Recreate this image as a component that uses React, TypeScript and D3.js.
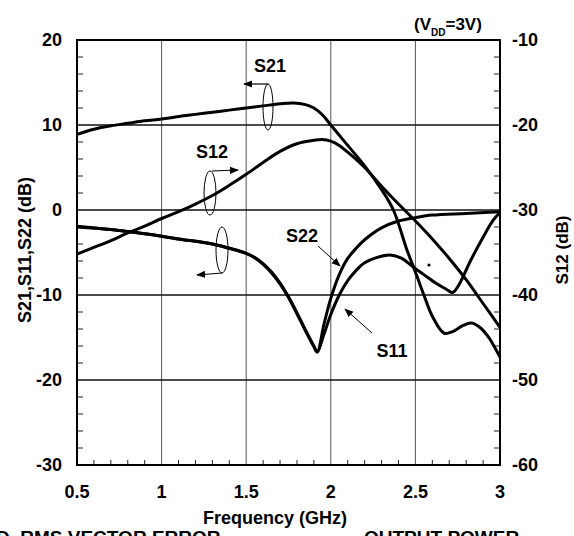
import React from "react"
import * as d3 from "d3"

// S-parameters vs frequency, VDD = 3V
const s21Freq = [0.5, 0.6, 0.7, 0.8, 0.9, 1.0, 1.1, 1.2, 1.3, 1.4, 1.5, 1.6, 1.7, 1.78, 1.85, 1.9, 1.95, 2.0, 2.1, 2.2, 2.3, 2.37, 2.45, 2.5, 2.55, 2.6, 2.67, 2.72, 2.78, 2.83, 2.88, 2.93, 2.97, 3.0]
const s21Db = [8.9, 9.5, 9.9, 10.2, 10.5, 10.7, 11.0, 11.25, 11.5, 11.75, 12.0, 12.25, 12.5, 12.6, 12.4, 12.0, 11.2, 10.0, 7.6, 5.2, 2.4, 0, -4.7, -7.3, -10.0, -12.5, -14.5, -14.3, -13.6, -13.3, -13.8, -14.9, -16.2, -17.3]

const s12Freq = [0.5, 0.6, 0.7, 0.8, 0.9, 1.0, 1.1, 1.2, 1.3, 1.4, 1.5, 1.6, 1.7, 1.8, 1.9, 1.95, 2.0, 2.05, 2.1, 2.2, 2.3, 2.4, 2.5, 2.6, 2.7, 2.8, 2.9, 3.0]
const s12Db = [-35.2, -34.4, -33.6, -32.7, -31.9, -31.0, -30.2, -29.3, -28.3, -27.1, -25.8, -24.4, -23.1, -22.2, -21.8, -21.7, -21.9, -22.4, -23.2, -25.0, -27.2, -29.3, -31.3, -33.4, -35.7, -38.2, -41.0, -43.8]

const s11Freq = [0.5, 0.7, 0.9, 1.1, 1.3, 1.4, 1.5, 1.55, 1.6, 1.65, 1.7, 1.75, 1.8, 1.85, 1.9, 1.92, 1.96, 2.0, 2.05, 2.1, 2.15, 2.2, 2.27, 2.35, 2.42, 2.48, 2.55, 2.62, 2.68, 2.72, 2.76, 2.82, 2.9, 2.96, 3.0]
const s11Db = [-2.0, -2.3, -2.8, -3.4, -4.0, -4.5, -5.1, -5.6, -6.3, -7.3, -8.6, -10.2, -12.1, -14.1, -16.0, -16.7, -14.6, -12.3, -10.0, -8.3, -7.1, -6.2, -5.6, -5.3, -5.7, -6.6, -7.6, -8.6, -9.3, -9.7, -8.7, -6.2, -3.2, -1.2, -0.3]

const s22Freq = [0.5, 0.7, 0.9, 1.1, 1.3, 1.4, 1.5, 1.55, 1.6, 1.65, 1.7, 1.75, 1.8, 1.85, 1.9, 1.92, 1.96, 2.0, 2.05, 2.1, 2.15, 2.2, 2.3, 2.4, 2.5, 2.6, 2.8, 3.0]
const s22Db = [-1.9, -2.3, -2.8, -3.4, -4.0, -4.5, -5.1, -5.6, -6.4, -7.4, -8.7, -10.3, -12.2, -14.2, -16.1, -16.7, -13.4, -10.4, -7.6, -5.7, -4.5, -3.5, -2.1, -1.3, -0.9, -0.6, -0.4, -0.2]

const freqTicks = [0.5, 1, 1.5, 2, 2.5, 3]
const leftTicks = [20, 10, 0, -10, -20, -30]
const rightTicks = [-10, -20, -30, -40, -50, -60]

const FONT = "'Liberation Sans', Arial, Helvetica, sans-serif"

export default function App() {
  const x = d3.scaleLinear().domain([0.5, 3]).range([77, 500])
  const yL = d3.scaleLinear().domain([-30, 20]).range([465, 40])
  const yR = d3.scaleLinear().domain([-60, -10]).range([465, 40])

  const path = (xs: number[], ys: number[], y: d3.ScaleLinear<number, number>) =>
    d3.line<number>()
      .x((d) => x(d))
      .y((_, i) => y(ys[i]))
      .curve(d3.curveCatmullRom.alpha(0.5))(xs) || ""

  const minorY = d3.range(-30, 20, 2).filter((v) => v % 10 !== 0)
  const minorX = d3.range(5, 30, 1).map((v) => v / 10).filter((v) => Math.abs(v * 2 - Math.round(v * 2)) > 1e-6)

  return (
    <svg width={574} height={536} style={{ position: "absolute", left: 0, top: 0, background: "#fff" }}
      fontFamily={FONT} fontWeight="bold">
      <defs>
        <marker id="ah" viewBox="0 0 10 10" refX="9" refY="5" markerWidth="9" markerHeight="9" orient="auto" markerUnits="userSpaceOnUse">
          <path d="M0,1 L10,5 L0,9 z" fill="#000" />
        </marker>
      </defs>

      {/* vertical grid */}
      {[1, 1.5, 2, 2.5].map((f) => (
        <line key={"vg" + f} x1={x(f)} x2={x(f)} y1={40} y2={465} stroke="#555" strokeWidth={1} />
      ))}
      {/* horizontal grid */}
      {[10, 0, -10, -20].map((v) => (
        <line key={"hg" + v} x1={77} x2={500} y1={yL(v)} y2={yL(v)} stroke="#111" strokeWidth={1.4} />
      ))}

      {/* minor ticks */}
      {minorY.map((v) => (
        <g key={"my" + v}>
          <line x1={77} x2={83} y1={yL(v)} y2={yL(v)} stroke="#222" strokeWidth={1} />
          <line x1={500} x2={494} y1={yL(v)} y2={yL(v)} stroke="#222" strokeWidth={1} />
        </g>
      ))}
      {minorX.map((f) => (
        <line key={"mx" + f} x1={x(f)} x2={x(f)} y1={465} y2={460} stroke="#222" strokeWidth={1} />
      ))}

      <rect x={77} y={40} width={423} height={425} fill="none" stroke="#000" strokeWidth={2} />

      {/* curves */}
      <path d={path(s21Freq, s21Db, yL)} fill="none" stroke="#000" strokeWidth={3} />
      <path d={path(s12Freq, s12Db, yR)} fill="none" stroke="#000" strokeWidth={3} />
      <path d={path(s11Freq, s11Db, yL)} fill="none" stroke="#000" strokeWidth={3} />
      <path d={path(s22Freq, s22Db, yL)} fill="none" stroke="#000" strokeWidth={3} />
      <circle cx={429} cy={265} r={1.6} fill="#000" />

      {/* annotations */}
      <text x={270} y={72} fontSize={18} textAnchor="middle">S21</text>
      <ellipse cx={268} cy={107} rx={5} ry={23} fill="none" stroke="#000" strokeWidth={1} />
      <line x1={268} y1={84} x2={244} y2={84} stroke="#000" strokeWidth={1.2} markerEnd="url(#ah)" />

      <text x={212} y={158} fontSize={18} textAnchor="middle">S12</text>
      <ellipse cx={210} cy={193} rx={6} ry={22} fill="none" stroke="#000" strokeWidth={1} />
      <line x1={212} y1={171} x2={238} y2={170} stroke="#000" strokeWidth={1.2} markerEnd="url(#ah)" />

      <ellipse cx={222} cy={250} rx={6} ry={23} fill="none" stroke="#000" strokeWidth={1} />
      <line x1={222} y1={273} x2={197} y2={275} stroke="#000" strokeWidth={1.2} markerEnd="url(#ah)" />

      <text x={302} y={242} fontSize={18} textAnchor="middle">S22</text>
      <line x1={318} y1={246} x2={340} y2={266} stroke="#000" strokeWidth={1} markerEnd="url(#ah)" />

      <text x={392} y={357} fontSize={18} textAnchor="middle">S11</text>
      <line x1={372} y1={333} x2={345} y2={309} stroke="#000" strokeWidth={1} markerEnd="url(#ah)" />

      <text x={414} y={30} fontSize={17}>
        (V<tspan dy={6} fontSize={10}>DD</tspan><tspan dy={-6}>=3V)</tspan>
      </text>

      {/* tick labels */}
      {leftTicks.map((v) => (
        <text key={"lt" + v} x={62} y={yL(v)} dy="0.35em" fontSize={18} textAnchor="end">{v}</text>
      ))}
      {rightTicks.map((v) => (
        <text key={"rt" + v} x={512} y={yR(v)} dy="0.35em" fontSize={18} textAnchor="start">{v}</text>
      ))}
      {freqTicks.map((f) => (
        <text key={"ft" + f} x={x(f)} y={498} fontSize={18} textAnchor="middle">{f}</text>
      ))}

      <text x={275} y={524} fontSize={18} textAnchor="middle">Frequency (GHz)</text>
      <text transform="translate(25,250) rotate(-90)" fontSize={18} textAnchor="middle" dominantBaseline="central">S21,S11,S22 (dB)</text>
      <text transform="translate(562,250) rotate(-90)" fontSize={17} textAnchor="middle" dominantBaseline="central">S12 (dB)</text>

      {/* caption of the next figure, cut by the crop as in the original */}
      <text x={-4} y={544} fontSize={19}>D. RMS VECTOR ERROR</text>
      <text x={364} y={544} fontSize={19}>OUTPUT POWER</text>
    </svg>
  )
}
